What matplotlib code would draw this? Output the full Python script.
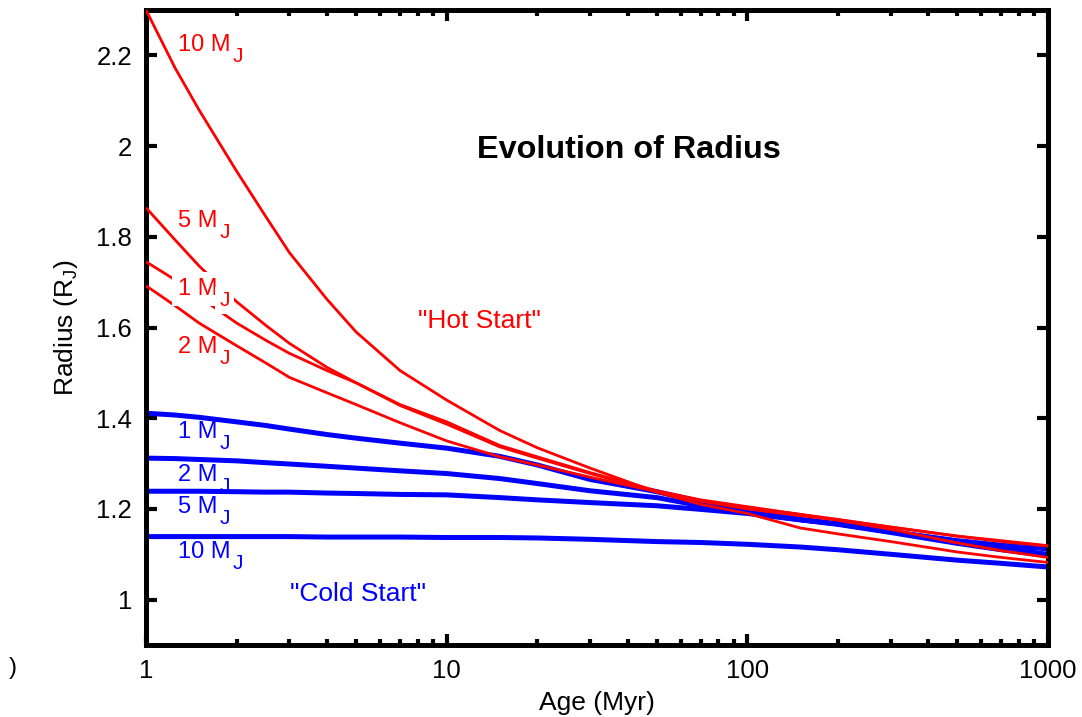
import numpy as np
import matplotlib
matplotlib.use("Agg")
import matplotlib.pyplot as plt
from matplotlib.ticker import FixedLocator, FixedFormatter, LogLocator, NullFormatter

plt.rcParams['font.family'] = ['Liberation Sans', 'DejaVu Sans']
plt.rcParams['mathtext.default'] = 'regular'

# ---- data ----
ages = [1, 1.25, 1.5, 2, 2.5, 3, 4, 5, 7, 10, 15, 20, 30, 50, 70, 100, 150, 200, 300, 500, 700, 1000]

hot_10 = [2.300, 2.172, 2.080, 1.945, 1.845, 1.765, 1.662, 1.590, 1.505, 1.440, 1.373, 1.335,
          1.290, 1.237, 1.210, 1.190, 1.158, 1.145, 1.128, 1.105, 1.093, 1.082]
hot_5 = [1.864, 1.793, 1.736, 1.657, 1.605, 1.565, 1.512, 1.478, 1.430, 1.392, 1.340, 1.315,
         1.280, 1.240, 1.220, 1.205, 1.188, 1.175, 1.155, 1.125, 1.108, 1.093]
hot_1 = [1.745, 1.705, 1.668, 1.610, 1.572, 1.543, 1.505, 1.478, 1.428, 1.387, 1.337, 1.312,
         1.278, 1.238, 1.218, 1.203, 1.188, 1.177, 1.160, 1.140, 1.130, 1.119]
hot_2 = [1.692, 1.648, 1.610, 1.560, 1.522, 1.490, 1.456, 1.430, 1.390, 1.350, 1.315, 1.297,
         1.270, 1.238, 1.217, 1.200, 1.185, 1.176, 1.160, 1.140, 1.128, 1.118]

cold_1 = [1.411, 1.407, 1.402, 1.392, 1.384, 1.376, 1.364, 1.356, 1.345, 1.334, 1.316, 1.297,
          1.265, 1.238, 1.216, 1.195, 1.177, 1.167, 1.150, 1.130, 1.120, 1.112]
cold_2 = [1.312, 1.311, 1.309, 1.306, 1.302, 1.299, 1.294, 1.290, 1.284, 1.278, 1.267, 1.256,
          1.240, 1.225, 1.207, 1.192, 1.176, 1.167, 1.150, 1.127, 1.113, 1.100]
cold_5 = [1.239, 1.239, 1.239, 1.238, 1.237, 1.237, 1.235, 1.234, 1.232, 1.231, 1.225, 1.220,
          1.214, 1.207, 1.199, 1.190, 1.176, 1.166, 1.148, 1.124, 1.110, 1.097]
cold_10 = [1.139, 1.139, 1.139, 1.139, 1.139, 1.139, 1.138, 1.138, 1.138, 1.137, 1.137, 1.136,
           1.133, 1.128, 1.126, 1.122, 1.116, 1.110, 1.100, 1.087, 1.080, 1.072]

xticks = [1, 10, 100, 1000]
xticklabels = ['1', '10', '100', '1000']
yticks = [1.0, 1.2, 1.4, 1.6, 1.8, 2.0, 2.2]
yticklabels = ['1', '1.2', '1.4', '1.6', '1.8', '2', '2.2']

RED = '#ff0000'
BLUE = '#0000ff'

fig = plt.figure(figsize=(10.82, 7.17), dpi=100)
ax = fig.add_axes([146/1082, 1 - 645/717, (1048 - 146)/1082, (645 - 10)/717])

for c in (cold_1, cold_2, cold_5, cold_10):
    ax.plot(ages, c, color=BLUE, lw=3.6, solid_capstyle='butt', solid_joinstyle='round', zorder=2)
for h in (hot_10, hot_5, hot_1, hot_2):
    ax.plot(ages, h, color=RED, lw=2.0, solid_capstyle='butt', solid_joinstyle='round', zorder=3)

ax.set_xscale('log')
ax.set_xlim(1, 1000)
ax.set_ylim(0.9, 2.3)

ax.xaxis.set_major_locator(FixedLocator(xticks))
ax.xaxis.set_major_formatter(FixedFormatter(xticklabels))
ax.xaxis.set_minor_locator(LogLocator(base=10, subs=np.arange(2, 10), numticks=20))
ax.xaxis.set_minor_formatter(NullFormatter())
ax.yaxis.set_major_locator(FixedLocator(yticks))
ax.yaxis.set_major_formatter(FixedFormatter(yticklabels))

ax.tick_params(which='both', direction='in', top=True, right=True, colors='black')
ax.tick_params(which='major', length=8, width=3, labelsize=18.5, pad=10)
ax.tick_params(which='minor', length=4, width=3)
for s in ax.spines.values():
    s.set_linewidth(3.6)

ax.set_xlabel('Age (Myr)', fontsize=19, labelpad=6)
ax.set_ylabel('Radius (R$_J$)', fontsize=19, labelpad=12)

# mass labels: main text + lowered full-size "J"
labels = [
    (2.2095, '10 M', RED, False),
    (1.8206, '5 M', RED, False),
    (1.6718, '1 M', RED, True),
    (1.543, '2 M', RED, False),
    (1.3565, '1 M', BLUE, False),
    (1.2623, '2 M', BLUE, False),
    (1.1908, '5 M', BLUE, False),
    (1.0913, '10 M', BLUE, False),
]
main_texts = []
for y, s, col, boxed in labels:
    kw = dict(fontsize=17, ha='left', va='baseline', color=col)
    if boxed:
        kw.update(zorder=5, bbox=dict(boxstyle='square,pad=0.25', fc='white', ec='none'))
    t = ax.text(1.278, y, s, **kw)
    main_texts.append((t, y, col, boxed))

fig.canvas.draw()
renderer = fig.canvas.get_renderer()
inv = ax.transData.inverted()
for t, y, col, boxed in main_texts:
    bb = t.get_window_extent(renderer)
    base = ax.transData.transform((1.278, y))[1]
    xd, yd = inv.transform((bb.x1 + 2, base - 11))
    kw = dict(fontsize=15, ha='left', va='baseline', color=col)
    if boxed:
        kw.update(zorder=5, bbox=dict(boxstyle='square,pad=0.2', fc='white', ec='none'))
    ax.text(xd, yd, 'J', **kw)

ax.text(8.03, 1.5996, '"Hot Start"', color=RED, fontsize=19, ha='left', va='baseline')
ax.text(3.01, 0.998, '"Cold Start"', color=BLUE, fontsize=19, ha='left', va='baseline')
ax.text(12.6, 1.974, 'Evolution of Radius', color='black', fontsize=23.3,
        fontweight='bold', ha='left', va='baseline')

fig.text(0.008, 1 - 668/717, ')', fontsize=17, va='center', ha='left')

fig.savefig('out.png', dpi=100)
